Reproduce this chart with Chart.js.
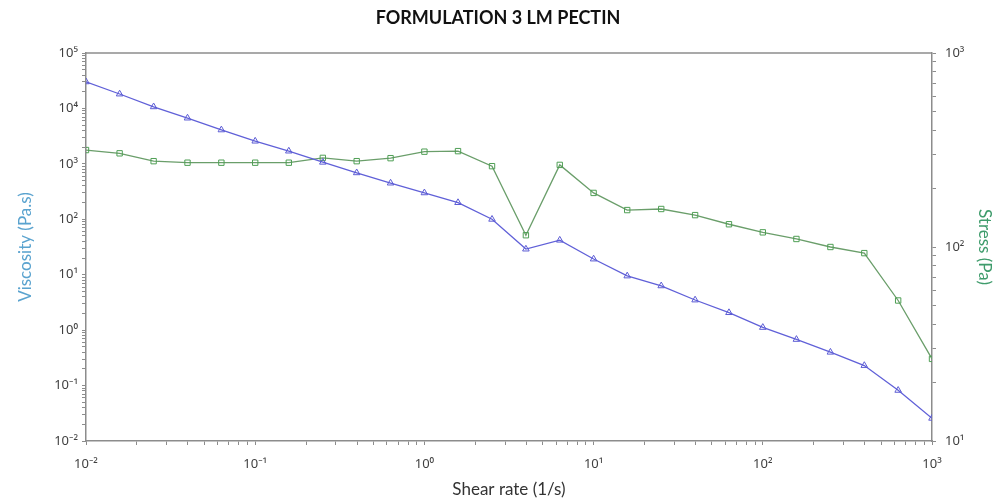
<!DOCTYPE html>
<html>
<head>
<meta charset="utf-8">
<script src="https://cdn.jsdelivr.net/npm/chart.js@4.4.0/dist/chart.umd.min.js"></script>
<style>
  html, body { margin: 0; padding: 0; background: #fff; }
  #wrap { width: 996px; height: 503px; }
</style>
</head>
<body>
<div id="wrap"><canvas id="rheoChart"></canvas></div>
<script>
// Shear rate (1/s)
const shearRate = [0.01, 0.0158, 0.0251, 0.0398, 0.0631, 0.1, 0.158, 0.251, 0.398, 0.631,
                   1, 1.58, 2.51, 3.98, 6.31, 10, 15.8, 25.1, 39.8, 63.1,
                   100, 158, 251, 398, 631, 1000];
// Viscosity (Pa.s) - left axis
const viscosity = [30200, 18200, 10700, 6700, 4100, 2570, 1700, 1070, 690, 450,
                   300, 200, 100, 29, 42, 19.2, 9.5, 6.3, 3.5, 2.07,
                   1.12, 0.68, 0.40, 0.23, 0.082, 0.0257];
// Stress (Pa) - right axis
const stress = [316, 304, 277, 272, 272, 272, 272, 288, 277, 287,
                310, 312, 261, 115, 265, 190, 155, 157, 146, 131,
                119, 110, 100, 93, 53, 26.5];

// Axis decade ranges [min exponent, max exponent]
const xDecades = [-2, 3];
const viscDecades = [-2, 5];
const stressDecades = [1, 3];

const axisColor = '#8c8c8c';
const labelColor = '#404040';

const supMap = { '-': '\u207B', '0': '\u2070', '1': '\u00B9', '2': '\u00B2', '3': '\u00B3',
                 '4': '\u2074', '5': '\u2075', '6': '\u2076', '7': '\u2077', '8': '\u2078', '9': '\u2079' };

function powerLabel(value) {
    const e = Math.log10(value);
    if (Math.abs(e - Math.round(e)) > 1e-6) return '';
    return '10' + String(Math.round(e)).split('').map(c => supMap[c]).join('');
}

// 1..9 x 10^n ticks for a log axis
function logTicks(range) {
    const ticks = [];
    for (let e = range[0]; e <= range[1]; e++) {
        for (let m = 1; m <= 9; m++) {
            if (e === range[1] && m > 1) break;
            ticks.push({ value: parseFloat((m * Math.pow(10, e)).toPrecision(6)) });
        }
    }
    return ticks;
}

// top frame line
const topFrame = {
    id: 'topFrame',
    afterDraw(chart) {
        const { ctx, chartArea } = chart;
        ctx.save();
        ctx.strokeStyle = axisColor;
        ctx.lineWidth = 1.5;
        ctx.beginPath();
        ctx.moveTo(chartArea.left, chartArea.top);
        ctx.lineTo(chartArea.right, chartArea.top);
        ctx.stroke();
        ctx.restore();
    }
};

const tickFont = { family: "'Noto Sans', sans-serif", size: 13 };
const titleFont = { family: 'Lato, sans-serif', size: 17, lineHeight: 1.2 };

const ctx = document.getElementById('rheoChart').getContext('2d');
new Chart(ctx, {
    type: 'line',
    data: {
        datasets: [{
            label: 'Viscosity',
            data: shearRate.map((x, i) => ({ x: x, y: viscosity[i] })),
            yAxisID: 'y',
            borderColor: '#6060d8',
            borderWidth: 1.3,
            pointStyle: 'triangle',
            pointRadius: 3.8,
            pointBorderColor: '#5c5cd4',
            pointBackgroundColor: 'rgba(255,255,255,0)',
            pointBorderWidth: 1,
            fill: false,
            tension: 0
        }, {
            label: 'Stress',
            data: shearRate.map((x, i) => ({ x: x, y: stress[i] })),
            yAxisID: 'y1',
            borderColor: '#6a9e6a',
            borderWidth: 1.3,
            pointStyle: 'rect',
            pointRadius: 3.8,
            pointBorderColor: '#4f9f55',
            pointBackgroundColor: 'rgba(255,255,255,0)',
            pointBorderWidth: 1,
            fill: false,
            tension: 0
        }]
    },
    options: {
        responsive: true,
        maintainAspectRatio: false,
        animation: false,
        layout: { padding: 0 },
        plugins: {
            legend: { display: false },
            tooltip: { enabled: false },
            title: {
                display: true,
                text: 'FORMULATION 3 LM PECTIN',
                color: '#111',
                font: { family: 'Lato, sans-serif', size: 18, weight: 'bold', lineHeight: 1.2 },
                padding: { top: 7, bottom: 24.4 }
            }
        },
        scales: {
            x: {
                type: 'logarithmic',
                position: 'bottom',
                min: Math.pow(10, xDecades[0]),
                max: Math.pow(10, xDecades[1]),
                afterBuildTicks: s => { s.ticks = logTicks(xDecades); },
                afterFit: s => { s.height = 62; },
                ticks: {
                    autoSkip: false,
                    maxRotation: 0,
                    padding: 11,
                    color: labelColor,
                    font: tickFont,
                    callback: v => powerLabel(v)
                },
                grid: { drawOnChartArea: false, tickLength: 4, color: axisColor },
                border: { color: axisColor, width: 1.5 },
                title: {
                    display: true,
                    text: 'Shear rate (1/s)',
                    color: '#333',
                    font: titleFont,
                    padding: { top: 0, bottom: 3 }
                }
            },
            y: {
                type: 'logarithmic',
                position: 'left',
                min: Math.pow(10, viscDecades[0]),
                max: Math.pow(10, viscDecades[1]),
                afterBuildTicks: s => { s.ticks = logTicks(viscDecades); },
                afterFit: s => { s.width = 86; },
                ticks: {
                    autoSkip: false,
                    padding: 4,
                    color: labelColor,
                    font: tickFont,
                    callback: v => powerLabel(v)
                },
                grid: { drawOnChartArea: false, tickLength: 4, color: axisColor },
                border: { color: axisColor, width: 1.5 },
                title: {
                    display: true,
                    text: 'Viscosity (Pa.s)',
                    color: '#5aa3cf',
                    font: titleFont,
                    padding: { top: 15, bottom: 0 }
                }
            },
            y1: {
                type: 'logarithmic',
                position: 'right',
                min: Math.pow(10, stressDecades[0]),
                max: Math.pow(10, stressDecades[1]),
                afterBuildTicks: s => { s.ticks = logTicks(stressDecades); },
                afterFit: s => { s.width = 64; },
                ticks: {
                    autoSkip: false,
                    padding: 9,
                    color: labelColor,
                    font: tickFont,
                    callback: v => powerLabel(v)
                },
                grid: { drawOnChartArea: false, tickLength: 4, color: axisColor },
                border: { color: axisColor, width: 1.5 },
                title: {
                    display: true,
                    text: 'Stress (Pa)',
                    color: '#3f9c6c',
                    font: titleFont,
                    padding: { top: 1, bottom: 0 }
                }
            }
        }
    },
    plugins: [topFrame]
});
</script>
</body>
</html>
